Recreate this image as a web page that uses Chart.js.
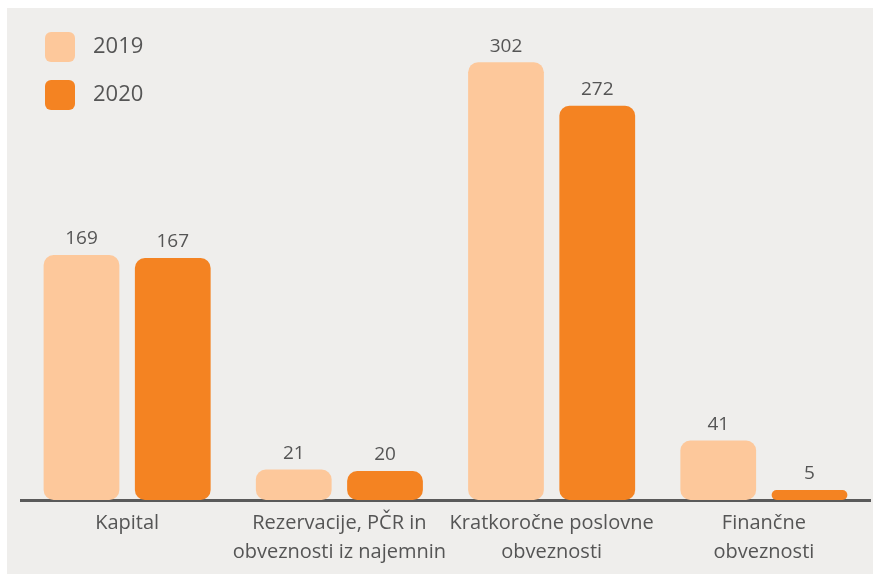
<!DOCTYPE html>
<html>
<head>
<meta charset="utf-8">
<script src="https://cdn.jsdelivr.net/npm/chart.js@4.4.0/dist/chart.umd.min.js"></script>
<style>
  html, body { margin: 0; padding: 0; background: #ffffff; }
  #wrap { width: 873px; height: 574px; position: relative; }
</style>
</head>
<body>
<div id="wrap"><canvas id="c" width="873" height="574"></canvas></div>
<script>
const categories = [
  ["Kapital"],
  ["Rezervacije, PČR in", "obveznosti iz najemnin"],
  ["Kratkoročne poslovne", "obveznosti"],
  ["Finančne", "obveznosti"]
];
const seriesNames = ["2019", "2020"];
const values2019 = [169, 21, 302, 41];
const values2020 = [167, 20, 272, 5];

const COL19 = '#FDC89B';
const COL20 = '#F48322';
const TEXT = '#555555';
const FONT = '"Open Sans", Lato, sans-serif';

const bgPlugin = {
  id: 'bg',
  beforeDraw(chart) {
    const ctx = chart.ctx;
    ctx.save();
    ctx.fillStyle = '#ffffff';
    ctx.fillRect(0, 0, chart.width, chart.height);
    ctx.fillStyle = '#EFEEEC';
    ctx.fillRect(7, 8, chart.width - 7, chart.height - 8);
    ctx.restore();
  }
};

const labelPlugin = {
  id: 'valueLabels',
  afterDatasetsDraw(chart) {
    const ctx = chart.ctx;
    ctx.save();
    ctx.fillStyle = TEXT;
    ctx.font = '19px ' + FONT;
    ctx.textAlign = 'center';
    ctx.textBaseline = 'middle';
    chart.data.datasets.forEach((ds, i) => {
      const meta = chart.getDatasetMeta(i);
      meta.data.forEach((bar, j) => {
        ctx.fillText(String(ds.data[j]), bar.x, bar.y - 16);
      });
    });
    ctx.restore();
  }
};

const legendPlugin = {
  id: 'customLegend',
  afterDraw(chart) {
    const ctx = chart.ctx;
    ctx.save();
    chart.data.datasets.forEach((ds, i) => {
      const x = 45, y = 32 + i * 48;
      ctx.fillStyle = ds.backgroundColor;
      ctx.beginPath();
      ctx.roundRect(x, y, 30, 30, 6);
      ctx.fill();
      ctx.fillStyle = TEXT;
      ctx.font = '22px ' + FONT;
      ctx.textAlign = 'left';
      ctx.textBaseline = 'middle';
      ctx.fillText(ds.label, 93, y + 15);
    });
    ctx.restore();
  }
};

new Chart(document.getElementById('c'), {
  type: 'bar',
  data: {
    labels: categories,
    datasets: [
      { label: seriesNames[0], data: values2019, backgroundColor: COL19, borderRadius: 10, borderSkipped: false, minBarLength: 10 },
      { label: seriesNames[1], data: values2020, backgroundColor: COL20, borderRadius: 10, borderSkipped: false, minBarLength: 10 }
    ]
  },
  options: {
    responsive: false,
    animation: false,
    layout: { padding: { left: 21, right: 3, top: 0, bottom: 0 } },
    categoryPercentage: 0.86,
    barPercentage: 0.83,
    plugins: {
      legend: { display: false },
      tooltip: { enabled: false }
    },
    scales: {
      x: {
        grid: { display: false },
        border: { display: true, color: '#5A5A5A', width: 3 },
        ticks: {
          color: TEXT,
          font: { family: FONT, size: 20, lineHeight: 1.45 },
          padding: 1,
          maxRotation: 0,
          autoSkip: false
        },
        afterFit(axis) { axis.height = 74; }
      },
      y: {
        display: false,
        min: 0,
        max: 345
      }
    }
  },
  plugins: [bgPlugin, labelPlugin, legendPlugin]
});
</script>
</body>
</html>
